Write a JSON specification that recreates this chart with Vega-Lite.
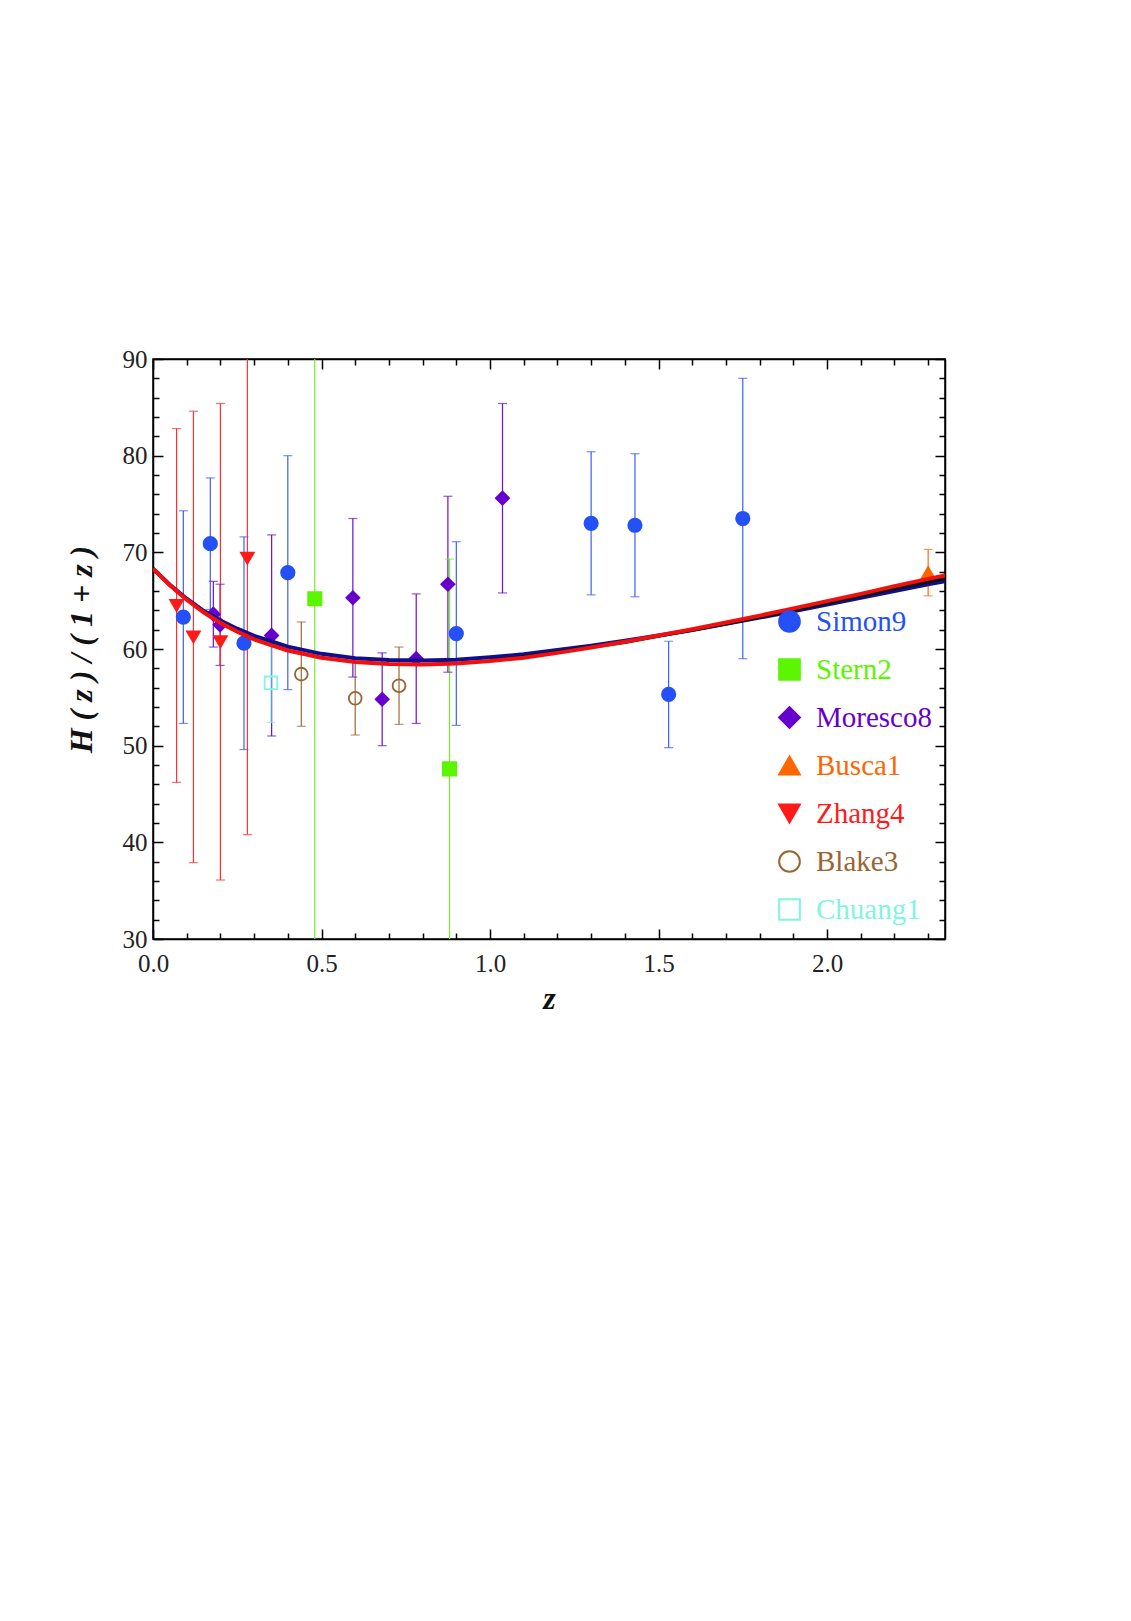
{
  "$schema": "https://vega.github.io/schema/vega-lite/v6.json",
  "width": 792,
  "height": 580,
  "autosize": {"type": "none"},
  "padding": {"left": 153, "top": 359, "right": 30, "bottom": 120},
  "background": "white",
  "config": {
    "view": {"stroke": "black", "strokeWidth": 1.5},
    "font": "Liberation Serif",
    "legend": {
      "padding": 0,
      "symbolSize": 430,
      "symbolStrokeWidth": 2,
      "labelFont": "Liberation Serif",
      "labelFontSize": 29,
      "labelOffset": 12,
      "rowPadding": 18,
      "labelLimit": 300
    }
  },
  "datasets": {
    "pts": [
      {"s": "Simon9", "z": 0.09, "H": 63.3, "lo": 52.3, "hi": 74.3},
      {"s": "Simon9", "z": 0.17, "H": 70.9, "lo": 64.1, "hi": 77.7},
      {"s": "Simon9", "z": 0.27, "H": 60.6, "lo": 49.6, "hi": 71.6},
      {"s": "Simon9", "z": 0.4, "H": 67.9, "lo": 55.8, "hi": 80.0},
      {"s": "Simon9", "z": 0.9, "H": 61.6, "lo": 52.1, "hi": 71.1},
      {"s": "Simon9", "z": 1.3, "H": 73.0, "lo": 65.6, "hi": 80.4},
      {"s": "Simon9", "z": 1.43, "H": 72.8, "lo": 65.4, "hi": 80.2},
      {"s": "Simon9", "z": 1.53, "H": 55.3, "lo": 49.8, "hi": 60.8},
      {"s": "Simon9", "z": 1.75, "H": 73.5, "lo": 59.0, "hi": 88.0},
      {"s": "Stern2", "z": 0.48, "H": 65.2, "lo": 23.3, "hi": 107.1},
      {"s": "Stern2", "z": 0.88, "H": 47.6, "lo": 26.3, "hi": 69.3},
      {"s": "Moresco8", "z": 0.179, "H": 63.6, "lo": 60.2, "hi": 67.0},
      {"s": "Moresco8", "z": 0.199, "H": 62.5, "lo": 58.3, "hi": 66.7},
      {"s": "Moresco8", "z": 0.352, "H": 61.4, "lo": 51.0, "hi": 71.8},
      {"s": "Moresco8", "z": 0.593, "H": 65.3, "lo": 57.1, "hi": 73.5},
      {"s": "Moresco8", "z": 0.68, "H": 54.8, "lo": 50.0, "hi": 59.6},
      {"s": "Moresco8", "z": 0.781, "H": 59.0, "lo": 52.3, "hi": 65.7},
      {"s": "Moresco8", "z": 0.875, "H": 66.7, "lo": 57.6, "hi": 75.8},
      {"s": "Moresco8", "z": 1.037, "H": 75.6, "lo": 65.8, "hi": 85.4},
      {"s": "Busca1", "z": 2.3, "H": 67.9, "lo": 65.5, "hi": 70.3},
      {"s": "Zhang4", "z": 0.07, "H": 64.5, "lo": 46.2, "hi": 82.8},
      {"s": "Zhang4", "z": 0.12, "H": 61.25, "lo": 37.9, "hi": 84.6},
      {"s": "Zhang4", "z": 0.2, "H": 60.75, "lo": 36.1, "hi": 85.4},
      {"s": "Zhang4", "z": 0.28, "H": 69.4, "lo": 40.8, "hi": 98.0},
      {"s": "Blake3", "z": 0.44, "H": 57.4, "lo": 52.0, "hi": 62.8},
      {"s": "Blake3", "z": 0.6, "H": 54.9, "lo": 51.1, "hi": 58.7},
      {"s": "Blake3", "z": 0.73, "H": 56.2, "lo": 52.2, "hi": 60.2},
      {"s": "Chuang1", "z": 0.35, "H": 56.5, "lo": 52.4, "hi": 60.6}
    ],
    "curves": [
      {"m": "red", "z": 0, "v": 68.3},
      {"m": "red", "z": 0.05, "v": 66.6},
      {"m": "red", "z": 0.1, "v": 65.1},
      {"m": "red", "z": 0.15, "v": 63.8},
      {"m": "red", "z": 0.2, "v": 62.7},
      {"m": "red", "z": 0.25, "v": 61.8},
      {"m": "red", "z": 0.3, "v": 61.0},
      {"m": "red", "z": 0.35, "v": 60.4},
      {"m": "red", "z": 0.4, "v": 59.85},
      {"m": "red", "z": 0.5, "v": 59.1},
      {"m": "red", "z": 0.6, "v": 58.65},
      {"m": "red", "z": 0.7, "v": 58.45},
      {"m": "red", "z": 0.8, "v": 58.4},
      {"m": "red", "z": 0.9, "v": 58.5},
      {"m": "red", "z": 1.0, "v": 58.75},
      {"m": "red", "z": 1.1, "v": 59.1},
      {"m": "red", "z": 1.2, "v": 59.6},
      {"m": "red", "z": 1.3, "v": 60.15},
      {"m": "red", "z": 1.4, "v": 60.75},
      {"m": "red", "z": 1.5, "v": 61.4},
      {"m": "red", "z": 1.6, "v": 62.05},
      {"m": "red", "z": 1.7, "v": 62.75},
      {"m": "red", "z": 1.8, "v": 63.45},
      {"m": "red", "z": 1.9, "v": 64.2},
      {"m": "red", "z": 2.0, "v": 64.95},
      {"m": "red", "z": 2.1, "v": 65.7},
      {"m": "red", "z": 2.2, "v": 66.5},
      {"m": "red", "z": 2.3, "v": 67.25},
      {"m": "red", "z": 2.35, "v": 67.6},
      {"m": "blue", "z": 0, "v": 68.3},
      {"m": "blue", "z": 0.05, "v": 66.65},
      {"m": "blue", "z": 0.1, "v": 65.2},
      {"m": "blue", "z": 0.15, "v": 63.95},
      {"m": "blue", "z": 0.2, "v": 62.95},
      {"m": "blue", "z": 0.25, "v": 62.1},
      {"m": "blue", "z": 0.3, "v": 61.35},
      {"m": "blue", "z": 0.35, "v": 60.8},
      {"m": "blue", "z": 0.4, "v": 60.25},
      {"m": "blue", "z": 0.5, "v": 59.5},
      {"m": "blue", "z": 0.6, "v": 59.05},
      {"m": "blue", "z": 0.7, "v": 58.85},
      {"m": "blue", "z": 0.8, "v": 58.8},
      {"m": "blue", "z": 0.9, "v": 58.9},
      {"m": "blue", "z": 1.0, "v": 59.15},
      {"m": "blue", "z": 1.1, "v": 59.45},
      {"m": "blue", "z": 1.2, "v": 59.9},
      {"m": "blue", "z": 1.3, "v": 60.35},
      {"m": "blue", "z": 1.4, "v": 60.85},
      {"m": "blue", "z": 1.5, "v": 61.4},
      {"m": "blue", "z": 1.6, "v": 61.95},
      {"m": "blue", "z": 1.7, "v": 62.6},
      {"m": "blue", "z": 1.8, "v": 63.25},
      {"m": "blue", "z": 1.9, "v": 63.9},
      {"m": "blue", "z": 2.0, "v": 64.6},
      {"m": "blue", "z": 2.1, "v": 65.3},
      {"m": "blue", "z": 2.2, "v": 66.0},
      {"m": "blue", "z": 2.3, "v": 66.7},
      {"m": "blue", "z": 2.35, "v": 67.0},
      {"m": "black", "z": 1.0, "v": 58.8},
      {"m": "black", "z": 1.1, "v": 59.2},
      {"m": "black", "z": 1.2, "v": 59.7},
      {"m": "black", "z": 1.3, "v": 60.2},
      {"m": "black", "z": 1.4, "v": 60.7},
      {"m": "black", "z": 1.5, "v": 61.35},
      {"m": "black", "z": 1.6, "v": 61.95},
      {"m": "black", "z": 1.7, "v": 62.6},
      {"m": "black", "z": 1.8, "v": 63.3},
      {"m": "black", "z": 1.9, "v": 64.0},
      {"m": "black", "z": 2.0, "v": 64.75},
      {"m": "black", "z": 2.1, "v": 65.5},
      {"m": "black", "z": 2.2, "v": 66.25},
      {"m": "black", "z": 2.3, "v": 66.95},
      {"m": "black", "z": 2.35, "v": 67.3}
    ]
  },
  "resolve": {"axis": {"x": "independent", "y": "independent"}},
  "layer": [
    {
      "encoding": {
        "x": {
          "field": "z",
          "type": "quantitative",
          "scale": {"domain": [0, 2.35], "nice": false, "zero": false},
          "axis": {
            "orient": "bottom",
            "values": [0, 0.1, 0.2, 0.3, 0.4, 0.5, 0.6, 0.7, 0.8, 0.9, 1.0, 1.1, 1.2, 1.3, 1.4, 1.5, 1.6, 1.7, 1.8, 1.9, 2.0, 2.1, 2.2, 2.3],
            "labelExpr": "abs(datum.value * 2 - round(datum.value * 2)) < 0.001 ? format(datum.value, '.1f') : ''",
            "tickSize": {"condition": {"test": "abs(datum.value * 2 - round(datum.value * 2)) < 0.001", "value": -10}, "value": -6},
            "tickColor": "black",
            "tickWidth": 1.5,
            "domainColor": "black",
            "domainWidth": 1.5,
            "grid": false,
            "labelFont": "Liberation Serif",
            "labelFontSize": 25,
            "labelColor": "#222222",
            "labelPadding": 22,
            "labelFlush": false,
            "labelOverlap": false,
            "title": "z",
            "titleFont": "Liberation Serif",
            "titleFontSize": 32,
            "titleFontStyle": "italic",
            "titleFontWeight": "bold",
            "titleColor": "#111111",
            "titlePadding": 3
          }
        },
        "y": {
          "type": "quantitative",
          "scale": {"domain": [30, 90], "nice": false, "zero": false},
          "axis": {
            "orient": "left",
            "values": [30, 32, 34, 36, 38, 40, 42, 44, 46, 48, 50, 52, 54, 56, 58, 60, 62, 64, 66, 68, 70, 72, 74, 76, 78, 80, 82, 84, 86, 88, 90],
            "labelExpr": "datum.value % 10 === 0 ? format(datum.value, 'd') : ''",
            "tickSize": {"condition": {"test": "datum.value % 10 === 0", "value": -10}, "value": -6},
            "tickColor": "black",
            "tickWidth": 1.5,
            "domainColor": "black",
            "domainWidth": 1.5,
            "grid": false,
            "labelFont": "Liberation Serif",
            "labelFontSize": 25,
            "labelColor": "#222222",
            "labelPadding": 16,
            "labelFlush": false,
            "labelOverlap": false,
            "title": "H ( z ) / ( 1 + z )",
            "titleFont": "Liberation Serif",
            "titleFontSize": 32,
            "titleFontStyle": "italic",
            "titleFontWeight": "bold",
            "titleColor": "#111111",
            "titlePadding": 24
          }
        }
      },
      "layer": [
        {
          "data": {"name": "pts"},
          "mark": {"type": "rule", "strokeWidth": 1.2, "clip": true},
          "encoding": {
            "y": {"field": "lo"},
            "y2": {"field": "hi"},
            "color": {"field": "s", "type": "nominal", "scale": {"domain": ["Chuang1", "Blake3", "Zhang4", "Busca1", "Moresco8", "Stern2", "Simon9"], "range": ["#80f0e0", "#9c6a33", "#ff3030", "#ff6a10", "#6a10d0", "#70f020", "#3a60f0"]}, "legend": null}
          }
        },
        {
          "data": {"name": "pts"},
          "mark": {"type": "tick", "orient": "horizontal", "size": 9, "thickness": 1.2, "clip": true},
          "encoding": {
            "y": {"field": "lo"},
            "color": {"field": "s", "type": "nominal", "legend": null}
          }
        },
        {
          "data": {"name": "pts"},
          "mark": {"type": "tick", "orient": "horizontal", "size": 9, "thickness": 1.2, "clip": true},
          "encoding": {
            "y": {"field": "hi"},
            "color": {"field": "s", "type": "nominal", "legend": null}
          }
        },
        {
          "data": {"name": "pts"},
          "mark": {"type": "point", "strokeWidth": 1.8, "opacity": 1, "clip": true},
          "encoding": {
            "y": {"field": "H"},
            "shape": {
              "field": "s",
              "type": "nominal",
              "scale": {"domain": ["Simon9", "Stern2", "Moresco8", "Busca1", "Zhang4", "Blake3", "Chuang1"], "range": ["circle", "square", "diamond", "triangle-up", "triangle-down", "circle", "square"]},
              "legend": {
                "title": null,
                "orient": "none",
                "legendX": 622,
                "legendY": 248,
                "encoding": {
                  "labels": {
                    "fill": {
                      "condition": [
                        {"test": "datum.value === 'Simon9'", "value": "#2450f5"},
                        {"test": "datum.value === 'Stern2'", "value": "#5cf500"},
                        {"test": "datum.value === 'Moresco8'", "value": "#6600cc"},
                        {"test": "datum.value === 'Busca1'", "value": "#ff6600"},
                        {"test": "datum.value === 'Zhang4'", "value": "#ff1a1a"},
                        {"test": "datum.value === 'Blake3'", "value": "#996633"}
                      ],
                      "value": "#80f5e0"
                    }
                  }
                }
              }
            },
            "stroke": {
              "field": "s",
              "type": "nominal",
              "scale": {"domain": ["Simon9", "Stern2", "Moresco8", "Busca1", "Zhang4", "Blake3", "Chuang1"], "range": ["#2450f5", "#5cf500", "#6600cc", "#ff6600", "#ff1a1a", "#996633", "#80f5e0"]},
              "legend": {"title": null, "orient": "none", "legendX": 622, "legendY": 248}
            },
            "fill": {
              "field": "s",
              "type": "nominal",
              "scale": {"domain": ["Simon9", "Stern2", "Moresco8", "Busca1", "Zhang4", "Blake3", "Chuang1"], "range": ["#2450f5", "#5cf500", "#6600cc", "#ff6600", "#ff1a1a", "transparent", "transparent"]},
              "legend": {"title": null, "orient": "none", "legendX": 622, "legendY": 248}
            },
            "size": {
              "field": "s",
              "type": "nominal",
              "scale": {"domain": ["Chuang1", "Blake3", "Zhang4", "Busca1", "Moresco8", "Stern2", "Simon9"], "range": [160, 180, 220, 120, 330, 175, 175]},
              "legend": null
            }
          }
        },
        {
          "data": {"name": "curves"},
          "transform": [{"filter": "datum.m === 'blue'"}],
          "mark": {"type": "line", "color": "#10108c", "strokeWidth": 4, "clip": true},
          "encoding": {"y": {"field": "v"}}
        },
        {
          "data": {"name": "curves"},
          "transform": [{"filter": "datum.m === 'black'"}],
          "mark": {"type": "line", "color": "#111111", "strokeWidth": 3.5, "clip": true},
          "encoding": {"y": {"field": "v"}}
        },
        {
          "data": {"name": "curves"},
          "transform": [{"filter": "datum.m === 'red'"}],
          "mark": {"type": "line", "color": "#f01010", "strokeWidth": 4, "clip": true},
          "encoding": {"y": {"field": "v"}}
        }
      ]
    },
    {
      "data": {"name": "pts"},
      "mark": {"type": "point", "opacity": 0},
      "encoding": {
        "x": {
          "field": "z",
          "type": "quantitative",
          "scale": {"domain": [0, 2.35], "nice": false, "zero": false},
          "axis": {
            "orient": "top",
            "values": [0, 0.1, 0.2, 0.3, 0.4, 0.5, 0.6, 0.7, 0.8, 0.9, 1.0, 1.1, 1.2, 1.3, 1.4, 1.5, 1.6, 1.7, 1.8, 1.9, 2.0, 2.1, 2.2, 2.3],
            "labels": false,
            "title": null,
            "tickSize": {"condition": {"test": "abs(datum.value * 2 - round(datum.value * 2)) < 0.001", "value": -10}, "value": -6},
            "tickColor": "black",
            "tickWidth": 1.5,
            "domainColor": "black",
            "domainWidth": 1.5,
            "grid": false
          }
        },
        "y": {
          "field": "H",
          "type": "quantitative",
          "scale": {"domain": [30, 90], "nice": false, "zero": false},
          "axis": {
            "orient": "right",
            "values": [30, 32, 34, 36, 38, 40, 42, 44, 46, 48, 50, 52, 54, 56, 58, 60, 62, 64, 66, 68, 70, 72, 74, 76, 78, 80, 82, 84, 86, 88, 90],
            "labels": false,
            "title": null,
            "tickSize": {"condition": {"test": "datum.value % 10 === 0", "value": -10}, "value": -6},
            "tickColor": "black",
            "tickWidth": 1.5,
            "domainColor": "black",
            "domainWidth": 1.5,
            "grid": false
          }
        }
      }
    }
  ]
}
